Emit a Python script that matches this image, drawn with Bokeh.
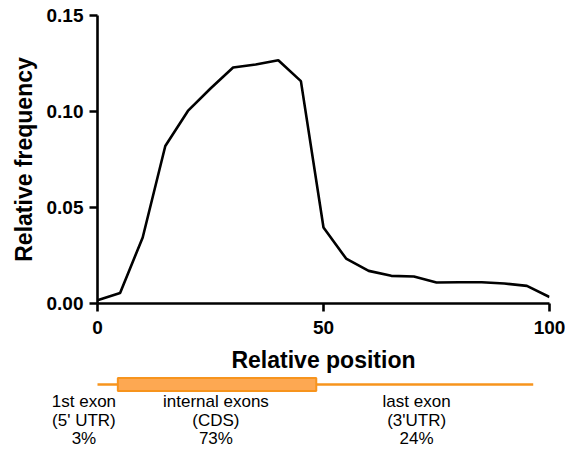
from bokeh.plotting import figure
from bokeh.layouts import column
from bokeh.models import Range1d, FixedTicker, NumeralTickFormatter, ColumnDataSource, LabelSet
from bokeh.core.properties import value
from bokeh.embed import file_html
from bokeh.resources import INLINE

# ---- data ----
positions = [0, 5, 10, 15, 20, 25, 30, 35, 40, 45, 50, 55, 60, 65, 70, 75, 80, 85, 90, 95, 100]
frequency = [0.0017, 0.0055, 0.0344, 0.0820, 0.1003, 0.1120, 0.1229, 0.1245, 0.1267, 0.1158,
             0.0396, 0.0234, 0.0170, 0.0144, 0.0141, 0.0109, 0.0111, 0.0111, 0.0104, 0.0092, 0.0034]
x_ticks = [0, 50, 100]
y_ticks = [0.0, 0.05, 0.10, 0.15]

gene_start, cds_start, cds_end, gene_end = 0.0, 4.5, 48.4, 96.4
region_x = [-3.0, 26.2, 70.6]
region_name = ["1st exon", "internal exons", "last exon"]
region_part = ["(5' UTR)", "(CDS)", "(3'UTR)"]
region_pct = ["3%", "73%", "24%"]

FONT = "Liberation Sans"
W = 565
BL, BR = 97, 16
FW = W - BL - BR

p = figure(width=W, height=376, output_backend="svg", toolbar_location=None,
           x_range=Range1d(0, 100), y_range=Range1d(0, 0.15),
           min_border_left=BL, min_border_right=BR, min_border_top=15, min_border_bottom=73)
p.frame_align = False
p.outline_line_color = None
p.grid.grid_line_color = None
p.background_fill_color = "white"
p.border_fill_color = "white"

p.line(positions, frequency, line_color="black", line_width=2.6)

for ax in (p.xaxis[0], p.yaxis[0]):
    ax.axis_line_width = 2.6
    ax.axis_line_color = "black"
    ax.major_tick_line_width = 2.6
    ax.major_tick_line_color = "black"
    ax.major_tick_out = 8
    ax.major_tick_in = 0
    ax.minor_tick_line_color = None
    ax.major_label_text_font = FONT
    ax.major_label_text_font_style = "bold"
    ax.major_label_text_font_size = "19px"
    ax.major_label_text_color = "black"
    ax.axis_label_text_font = FONT
    ax.axis_label_text_font_style = "bold"
    ax.axis_label_text_font_size = "23px"
    ax.axis_label_text_color = "black"

p.xaxis.major_label_standoff = 9
p.yaxis.major_label_standoff = 6
p.xaxis.ticker = FixedTicker(ticks=x_ticks)
p.yaxis.ticker = FixedTicker(ticks=y_ticks)
p.yaxis.formatter = NumeralTickFormatter(format="0.00")
p.xaxis.formatter = NumeralTickFormatter(format="0")
p.xaxis.axis_label = "Relative position"
p.yaxis.axis_label = "Relative frequency"
p.xaxis.axis_label_standoff = 10
p.yaxis.axis_label_standoff = 7

# ---- gene diagram: frame spans the full width, x mapping identical to the chart ----
x0 = -BL * 100.0 / FW
x1 = 100 + BR * 100.0 / FW
g = figure(width=W, height=74, output_backend="svg", toolbar_location=None,
           x_range=Range1d(x0, x1), y_range=Range1d(74, 0),
           min_border_left=0, min_border_right=0, min_border_top=0, min_border_bottom=0)
g.frame_align = False
g.outline_line_color = None
g.grid.grid_line_color = None
g.xaxis.visible = False
g.yaxis.visible = False
g.background_fill_color = "white"
g.border_fill_color = "white"

g.segment(x0=[gene_start], y0=[8], x1=[gene_end], y1=[8], line_color="#F7941D", line_width=2.5)
g.quad(left=[cds_start], right=[cds_end], top=[1.5], bottom=[14.5],
       fill_color="#FDA852", line_color="#F7941D", line_width=2)

for lines, yb in ((region_name, 30.7), (region_part, 49.0), (region_pct, 67.3)):
    src = ColumnDataSource(dict(x=region_x, y=[yb] * len(region_x), t=lines))
    g.add_layout(LabelSet(x="x", y="y", text="t", source=src, text_font=value(FONT),
                          text_font_size="17px", text_align="center",
                          text_baseline="alphabetic", text_color="black"))

layout = column(p, g, spacing=0)
open("out.html", "w").write(file_html(layout, INLINE))
